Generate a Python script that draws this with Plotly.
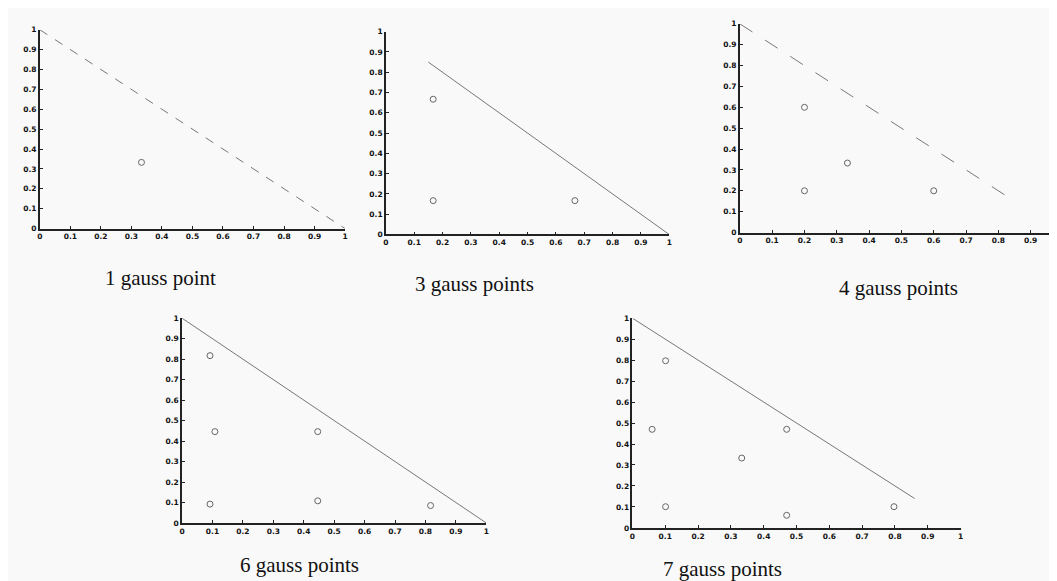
import plotly.graph_objects as go

W, H = 1057, 581

# ---- data ----
titles = ["1 gauss point", "3 gauss points", "4 gauss points", "6 gauss points", "7 gauss points"]
tick_vals = [0, 0.1, 0.2, 0.3, 0.4, 0.5, 0.6, 0.7, 0.8, 0.9, 1]
tick_text = ["0", "0.1", "0.2", "0.3", "0.4", "0.5", "0.6", "0.7", "0.8", "0.9", "1"]

pts1_x = [0.333]
pts1_y = [0.333]
pts3_x = [0.167, 0.167, 0.667]
pts3_y = [0.667, 0.167, 0.167]
pts4_x = [0.2, 0.333, 0.2, 0.6]
pts4_y = [0.6, 0.333, 0.2, 0.2]
pts6_x = [0.092, 0.108, 0.446, 0.092, 0.446, 0.817]
pts6_y = [0.817, 0.446, 0.446, 0.092, 0.108, 0.085]
pts7_x = [0.101, 0.06, 0.47, 0.333, 0.101, 0.47, 0.797]
pts7_y = [0.797, 0.47, 0.47, 0.333, 0.101, 0.06, 0.101]

edge1_x = [0, 1]
edge1_y = [1, 0]
edge3_x = [0.15, 1]
edge3_y = [0.85, 0]
edge4_x = [0, 0.82]
edge4_y = [1, 0.18]
edge6_x = [0, 1]
edge6_y = [1, 0]
edge7_x = [0, 0.86]
edge7_y = [1, 0.14]

# ---- layout geometry (pixels: x at value 0, x at value 1, y at value 0, y at value 1) ----
panels = [
    dict(px=(29, 336), py=(220, 18), pts=(pts1_x, pts1_y), edge=(edge1_x, edge1_y), dash="dash", cap=(150, 270)),
    dict(px=(377, 662), py=(226, 20), pts=(pts3_x, pts3_y), edge=(edge3_x, edge3_y), dash="solid", cap=(466, 276)),
    dict(px=(733, 1058), py=(224, 12), pts=(pts4_x, pts4_y), edge=(edge4_x, edge4_y), dash="longdash", cap=(893, 280)),
    dict(px=(172, 478), py=(519, 311), pts=(pts6_x, pts6_y), edge=(edge6_x, edge6_y), dash="solid", cap=(290, 562)),
    dict(px=(625, 955), py=(524, 311), pts=(pts7_x, pts7_y), edge=(edge7_x, edge7_y), dash="solid", cap=(716, 566)),
]

fig = go.Figure()
layout = dict(
    width=W, height=H, margin=dict(l=0, r=0, t=0, b=0),
    paper_bgcolor="#f9f9f9", plot_bgcolor="rgba(0,0,0,0)", showlegend=False,
)
annotations = []
for i, p in enumerate(panels):
    n = "" if i == 0 else str(i + 1)
    x0, x1 = p["px"]
    yb, yt = p["py"]
    dom_x1 = min(x1, W)
    xmax = (dom_x1 - x0) / (x1 - x0)
    ex, ey = p["edge"]
    fig.add_trace(go.Scatter(x=ex, y=ey, mode="lines", xaxis="x" + n, yaxis="y" + n,
                             line=dict(color="#777777", width=1, dash=p["dash"]),
                             cliponaxis=False, hoverinfo="skip"))
    sx, sy = p["pts"]
    fig.add_trace(go.Scatter(x=sx, y=sy, mode="markers", xaxis="x" + n, yaxis="y" + n,
                             marker=dict(symbol="circle-open", size=6, color="#666666",
                                         line=dict(width=1, color="#666666")),
                             cliponaxis=False))
    common = dict(tickvals=tick_vals, ticktext=tick_text, showgrid=False, zeroline=False,
                  showline=True, linecolor="#222222", linewidth=1.5, ticks="inside",
                  ticklen=3, tickcolor="#222222",
                  tickfont=dict(family="DejaVu Sans", size=7.5, color="#111111", weight="bold"))
    layout["xaxis" + n] = dict(domain=[x0 / W, dom_x1 / W], range=[0, xmax],
                               anchor="y" + n, **common)
    layout["yaxis" + n] = dict(domain=[1 - yb / H, 1 - yt / H], range=[0, 1],
                               anchor="x" + n, **common)
    cx, cy = p["cap"]
    annotations.append(dict(text=titles[i], x=cx / W, y=1 - cy / H, xref="paper", yref="paper",
                            showarrow=False, xanchor="center", yanchor="middle",
                            font=dict(family="Liberation Serif", size=21, color="#111111")))
layout["annotations"] = annotations
fig.update_layout(**layout)
fig.write_html("out.html")
